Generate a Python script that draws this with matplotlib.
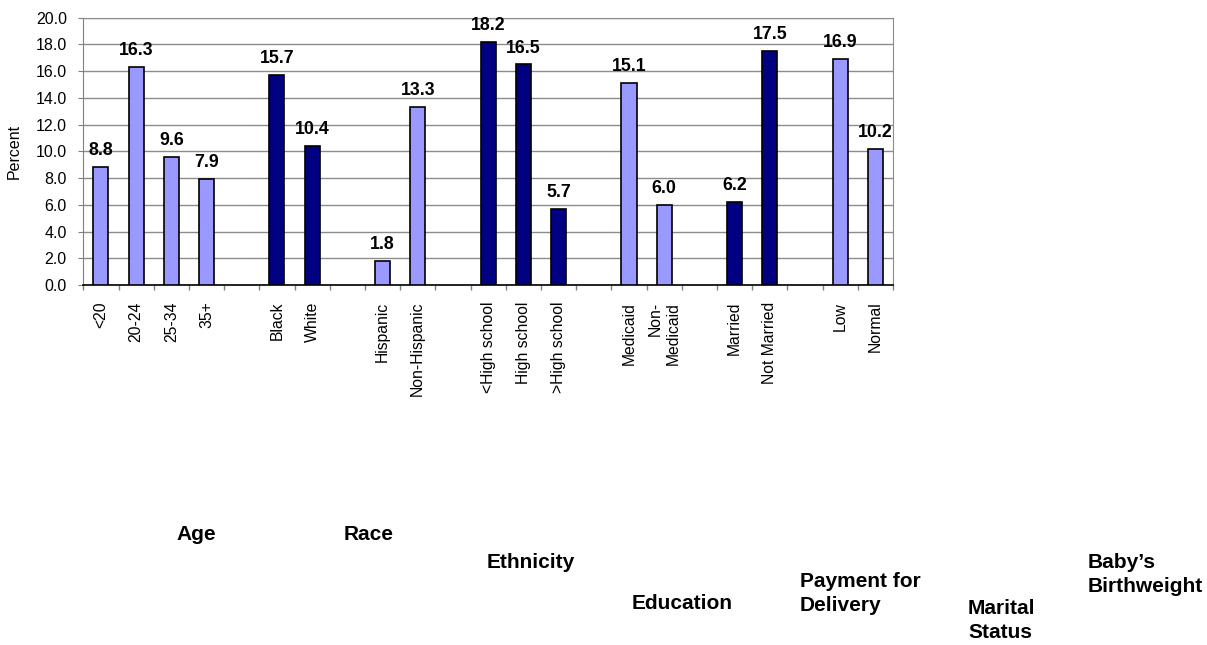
import numpy as np
import matplotlib
matplotlib.use("Agg")
import matplotlib.pyplot as plt

plt.rcParams['font.family'] = ['Liberation Sans', 'DejaVu Sans']

# data, one list per group (a blank slot goes between groups)
group_names = ['Age', 'Race', 'Ethnicity', 'Education', 'Payment for\nDelivery',
               'Marital\nStatus', 'Baby\u2019s\nBirthweight']
group_labels = [
    ['<20', '20-24', '25-34', '35+'],
    ['Black', 'White'],
    ['Hispanic', 'Non-Hispanic'],
    ['<High school', 'High school', '>High school'],
    ['Medicaid', 'Non-\nMedicaid'],
    ['Married', 'Not Married'],
    ['Low', 'Normal'],
]
group_values = [
    [8.8, 16.3, 9.6, 7.9],
    [15.7, 10.4],
    [1.8, 13.3],
    [18.2, 16.5, 5.7],
    [15.1, 6.0],
    [6.2, 17.5],
    [16.9, 10.2],
]
group_dark = [False, True, False, True, False, True, False]

light = '#9999FF'
dark = '#000080'

labels, values, colors = [], [], []
for i, (labs, vals) in enumerate(zip(group_labels, group_values)):
    if i > 0:
        labels.append('')
        values.append(np.nan)
        colors.append('white')
    labels += labs
    values += vals
    colors += [dark if group_dark[i] else light] * len(vals)

x = np.arange(len(labels))
values = np.array(values)

W, H = 1207, 645
fig = plt.figure(figsize=(W / 100, H / 100), dpi=100)
ax = fig.add_axes([83.3 / W, 1 - 285 / H, (893 - 83.3) / W, (285 - 17.7) / H])

ax.bar(x, values, width=0.43, color=colors, edgecolor='black', linewidth=1.2, zorder=3)

for xi, v in zip(x, values):
    if np.isnan(v):
        continue
    ax.annotate(f'{v:.1f}', (xi, v), xytext=(0, 8.6), textcoords='offset points',
                ha='center', va='baseline', fontsize=12.8, fontweight='bold')

ax.set_xlim(-0.5, len(labels) - 0.5)
ax.set_ylim(0, 20)
ax.set_yticks(np.arange(0, 20.1, 2))
ax.set_yticklabels([f'{t:.1f}' for t in np.arange(0, 20.1, 2)])
ax.yaxis.grid(True, color='#8c8c8c', linewidth=1, zorder=0)

ax.set_xticks(x)
ax.set_xticklabels(labels, rotation=90, fontsize=11.3)
ax.set_xticks(np.arange(-0.5, len(labels), 1), minor=True)
ax.tick_params(axis='x', which='major', length=0, pad=12)
ax.tick_params(axis='x', which='minor', length=5 * 0.72, width=1, color='#808080')
ax.tick_params(axis='y', length=5 * 0.72, pad=8.3, labelsize=11.5, color='#808080')
for lab in ax.get_xticklabels():
    lab.set_multialignment('right')

for side in ['top', 'right']:
    ax.spines[side].set_color('#8c8c8c')
ax.spines['left'].set_color('#808080')
ax.spines['bottom'].set_color('black')
ax.spines['bottom'].set_linewidth(1.2)

fig.text(14 / W, 1 - 151 / H, 'Percent', rotation=90, ha='center', va='center', fontsize=11.5)

# category captions under the chart (pixel positions of left edge / cap top)
name_pos = [(176, 529), (344, 529), (487, 557), (632, 598), (800, 576), (968, 603), (1088, 557)]
for name, (px, py) in zip(group_names, name_pos):
    fig.text(px / W, 1 - (py - 4) / H, name, ha='left', va='top', fontsize=15,
             fontweight='bold', linespacing=1.35, multialignment='left')

fig.savefig('out.png', dpi=100)
